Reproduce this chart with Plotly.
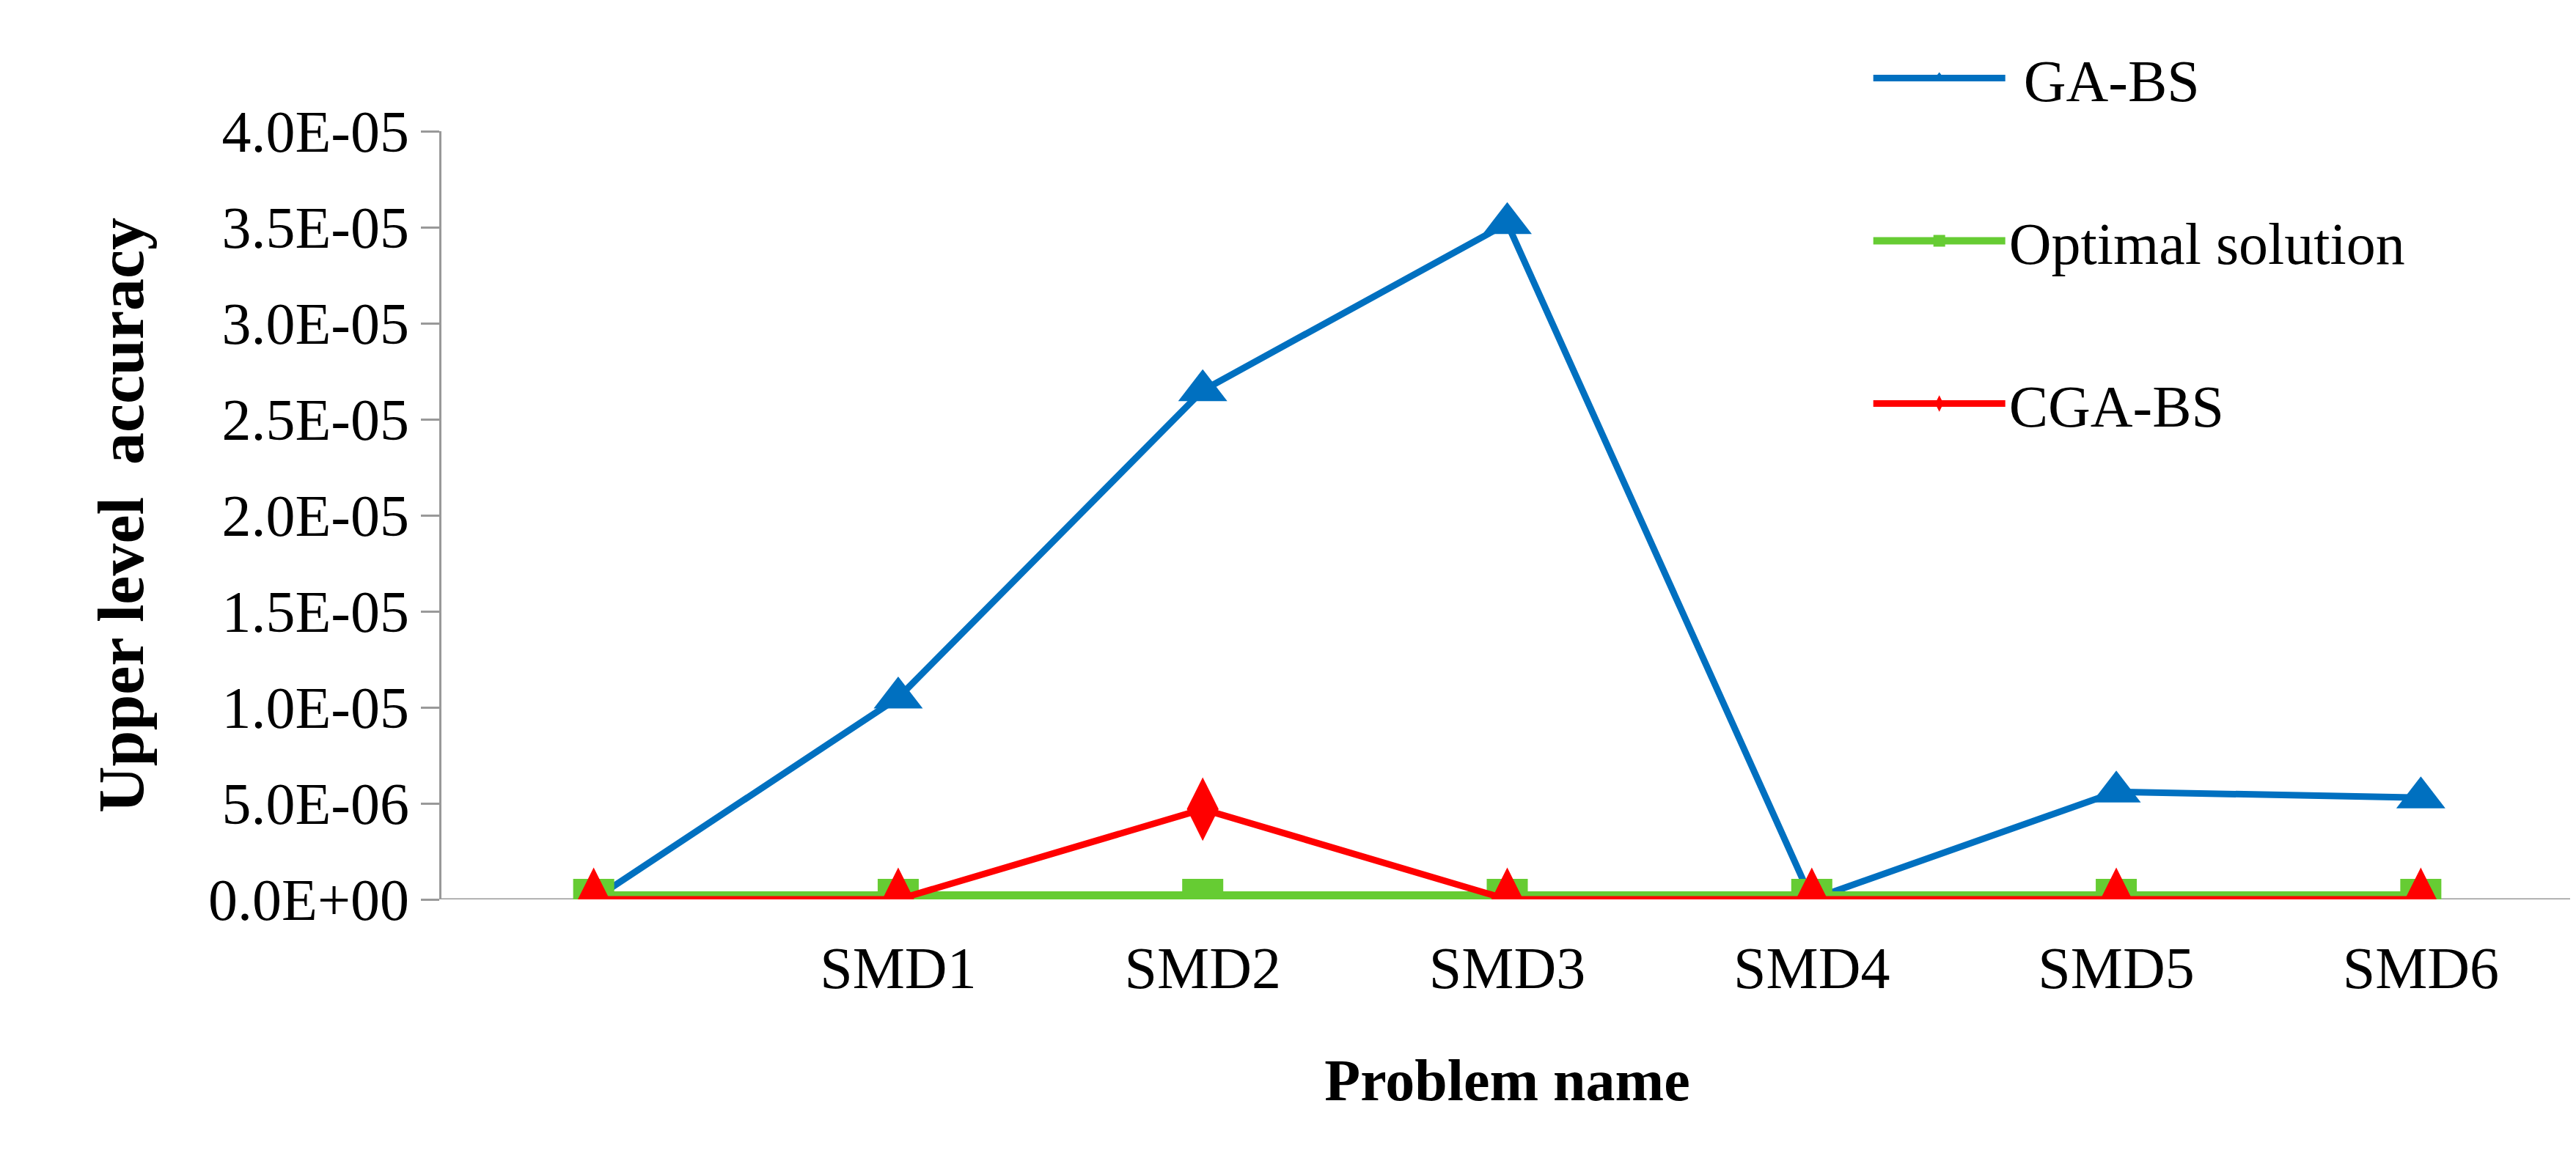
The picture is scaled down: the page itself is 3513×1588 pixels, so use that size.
import plotly.graph_objects as go

categories = ["", "SMD1", "SMD2", "SMD3", "SMD4", "SMD5", "SMD6"]
ga_bs = [0, 1.05e-5, 2.65e-5, 3.52e-5, 0, 5.6e-6, 5.3e-6]
optimal = [0, 0, 0, 0, 0, 0, 0]
cga_bs = [0, 0, 4.7e-6, 0, 0, 0, 0]
y_ticks = [0, 5e-6, 1e-5, 1.5e-5, 2e-5, 2.5e-5, 3e-5, 3.5e-5, 4e-5]
y_labels = ["0.0E+00", "5.0E-06", "1.0E-05", "1.5E-05", "2.0E-05", "2.5E-05", "3.0E-05", "3.5E-05", "4.0E-05"]

x = list(range(len(categories)))
font = "Liberation Serif"
fig = go.Figure()
fig.add_trace(go.Scatter(x=x, y=ga_bs, name=" GA-BS", legendgroup="a", mode="lines+markers",
                         line=dict(color="#0070C0", width=9),
                         marker=dict(symbol="triangle-up", size=58, color="#0070C0")))
fig.add_trace(go.Scatter(x=x, y=optimal, name="Optimal solution", legendgroup="b", mode="lines+markers",
                         line=dict(color="#66CC33", width=22),
                         marker=dict(symbol="square", size=56, color="#66CC33")))
fig.add_trace(go.Scatter(x=x, y=cga_bs, name="CGA-BS", legendgroup="c", mode="lines+markers",
                         line=dict(color="#FF0000", width=9),
                         marker=dict(symbol="diamond-tall", size=62, color="#FF0000")))
fig.update_layout(
    width=3513, height=1588, paper_bgcolor="white", plot_bgcolor="white",
    margin=dict(l=594, r=12, t=171, b=369),
    font=dict(family=font, size=80, color="black"),
    legend=dict(x=0.67, y=1.125, xanchor="left", yanchor="top", tracegroupgap=115,
                itemwidth=180, itemsizing="trace", font=dict(size=80), bgcolor="rgba(0,0,0,0)"),
    xaxis=dict(range=[-0.5, 6.5], tickvals=x, ticktext=categories, showgrid=False,
               zeroline=False, showline=False, ticks="", ticklabelstandoff=40,
               title=dict(text="<b>Problem name</b>", font=dict(size=80), standoff=80)),
    yaxis=dict(range=[0, 4e-5], tickvals=y_ticks, ticktext=y_labels, showgrid=False,
               zeroline=False, showline=True, linecolor="#999999", linewidth=3,
               ticks="outside", ticklen=25, tickwidth=3, tickcolor="#999999",
               title=dict(text="<b>Upper level  accuracy</b>", font=dict(size=88), standoff=60)),
)
fig.add_shape(type="line", xref="paper", yref="y", x0=0, x1=1, y0=0, y1=0,
              line=dict(color="#999999", width=3), layer="below")
fig.write_html("out.html")
